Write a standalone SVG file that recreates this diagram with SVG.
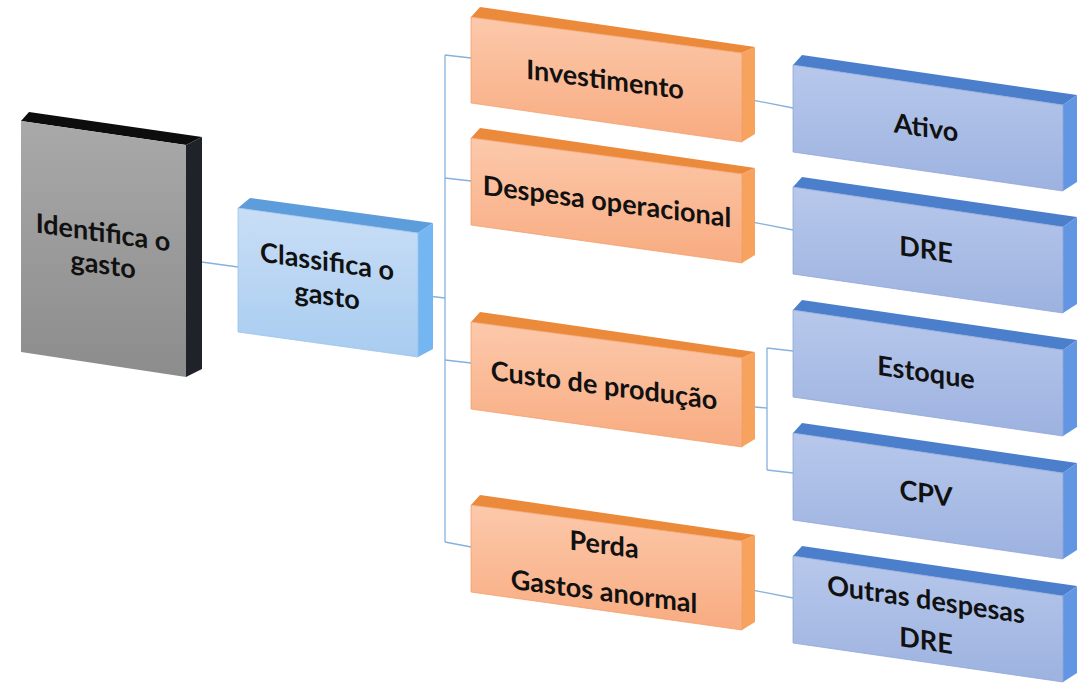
<svg xmlns="http://www.w3.org/2000/svg" width="1085" height="684" viewBox="0 0 1085 684">
<defs>
<linearGradient id="gGray" x1="0" y1="0" x2="0" y2="1"><stop offset="0" stop-color="#a9a9a9"/><stop offset="1" stop-color="#8c8c8c"/></linearGradient>
<linearGradient id="gLight" x1="0" y1="0" x2="0" y2="1"><stop offset="0" stop-color="#c9def6"/><stop offset="1" stop-color="#a8ccf0"/></linearGradient>
<linearGradient id="gOrange" x1="0" y1="0" x2="0" y2="1"><stop offset="0" stop-color="#fcc9ab"/><stop offset="1" stop-color="#f8ab80"/></linearGradient>
<linearGradient id="gBlue" x1="0" y1="0" x2="0" y2="1"><stop offset="0" stop-color="#b7c8eb"/><stop offset="1" stop-color="#9db2e0"/></linearGradient>
</defs>
<style>
.t{font-family:Lato,"Open Sans","Liberation Sans",sans-serif;font-weight:bold;font-size:27px;fill:#111;text-anchor:middle}
.con{fill:none;stroke:#84b2dc;stroke-width:1.3}
.gF{fill:url(#gGray)} .gT{fill:#0d0d0d} .gR{fill:#1f2329}
.lF{fill:url(#gLight);stroke:#9cc3ec;stroke-width:0.8} .lT{fill:#5e9ddb} .lR{fill:#74b6f2}
.oF{fill:url(#gOrange);stroke:#f4a06a;stroke-width:0.8} .oT{fill:#ec8a3c} .oR{fill:#f7a25d}
.bF{fill:url(#gBlue);stroke:#8fa6da;stroke-width:0.8} .bT{fill:#4b7fcc} .bR{fill:#6396e2}
</style>
<rect width="1085" height="684" fill="#ffffff"/>

<g id="connectors" class="con">
<polyline points="187,260 238,267"/>
<polyline points="419,295 445,298"/>
<polyline points="445,55 445,542"/>
<polyline points="445,55 471,58"/>
<polyline points="445,178 471,181"/>
<polyline points="445,360 471,363"/>
<polyline points="445,542 471,547"/>
<polyline points="742,98 793,108"/>
<polyline points="742,220 793,230"/>
<polyline points="742,406 767,408"/>
<polyline points="767,348 767,470"/>
<polyline points="767,348 793,351"/>
<polyline points="767,470 793,473"/>
<polyline points="742,588 793,598"/>
</g>

<g id="identifica">
<polygon class="gT" points="21,121 29,112 202,137 186,145"/>
<polygon class="gR" points="186,145 202,137 202,369 186,377"/>
<polygon class="gF" points="21,121 186,145 186,377 21,352"/>
<g transform="translate(103,248) skewY(8)"><text class="t" x="0" y="-6">Identifica o</text><text class="t" x="0" y="26">gasto</text></g>
</g>

<g id="classifica">
<polygon class="lT" points="238,208 250,198 433,223 418,233"/>
<polygon class="lR" points="418,233 433,223 433,349 418,357"/>
<polygon class="lF" points="238,208 418,233 418,357 238,332"/>
<g transform="translate(327,280) skewY(8)"><text class="t" x="0" y="-9">Classifica o</text><text class="t" x="0" y="25">gasto</text></g>
</g>

<g id="investimento">
<polygon class="oT" points="471,17 480,7 755,47 742,53"/>
<polygon class="oR" points="742,53 755,47 755,134 742,142"/>
<polygon class="oF" points="471,17 742,53 742,142 471,103"/>
<g transform="translate(605,80) skewY(7.5)"><text class="t" x="0" y="9">Investimento</text></g>
</g>

<g id="despesa">
<polygon class="oT" points="471,138 480,128 755,168 742,174"/>
<polygon class="oR" points="742,174 755,168 755,255 742,263"/>
<polygon class="oF" points="471,138 742,174 742,263 471,225"/>
<g transform="translate(607,202) skewY(7.5)"><text class="t" x="0" y="9">Despesa operacional</text></g>
</g>

<g id="custo">
<polygon class="oT" points="471,322 480,312 755,352 742,358"/>
<polygon class="oR" points="742,358 755,352 755,439 742,447"/>
<polygon class="oF" points="471,322 742,358 742,447 471,409"/>
<g transform="translate(604,386) skewY(7.5)"><text class="t" x="0" y="9">Custo de produção</text></g>
</g>

<g id="perda">
<polygon class="oT" points="471,505 480,495 755,535 742,541"/>
<polygon class="oR" points="742,541 755,535 755,622 742,630"/>
<polygon class="oF" points="471,505 742,541 742,630 471,592"/>
<g transform="translate(604,568) skewY(7.5)"><text class="t" x="0" y="-14">Perda</text><text class="t" x="0" y="33">Gastos anormal</text></g>
</g>

<g id="ativo">
<polygon class="bT" points="793,65 802,55 1077,95 1063,105"/>
<polygon class="bR" points="1063,105 1077,95 1077,182 1063,191"/>
<polygon class="bF" points="793,65 1063,105 1063,191 793,152"/>
<g transform="translate(926,128) skewY(8.4)"><text class="t" x="0" y="9">Ativo</text></g>
</g>

<g id="dre">
<polygon class="bT" points="793,187 802,177 1077,217 1063,227"/>
<polygon class="bR" points="1063,227 1077,217 1077,304 1063,313"/>
<polygon class="bF" points="793,187 1063,227 1063,313 793,274"/>
<g transform="translate(926,250) skewY(8.4)"><text class="t" x="0" y="9">DRE</text></g>
</g>

<g id="estoque">
<polygon class="bT" points="793,310 802,300 1077,340 1063,350"/>
<polygon class="bR" points="1063,350 1077,340 1077,427 1063,436"/>
<polygon class="bF" points="793,310 1063,350 1063,436 793,397"/>
<g transform="translate(926,373) skewY(8.4)"><text class="t" x="0" y="9">Estoque</text></g>
</g>

<g id="cpv">
<polygon class="bT" points="793,433 802,423 1077,463 1063,473"/>
<polygon class="bR" points="1063,473 1077,463 1077,550 1063,559"/>
<polygon class="bF" points="793,433 1063,473 1063,559 793,520"/>
<g transform="translate(926,494) skewY(8.4)"><text class="t" x="0" y="9">CPV</text></g>
</g>

<g id="outras">
<polygon class="bT" points="793,556 802,546 1077,586 1063,596"/>
<polygon class="bR" points="1063,596 1077,586 1077,673 1063,682"/>
<polygon class="bF" points="793,556 1063,596 1063,682 793,643"/>
<g transform="translate(926,620) skewY(8.4)"><text class="t" x="0" y="-11">Outras despesas</text><text class="t" x="0" y="30">DRE</text></g>
</g>
</svg>
